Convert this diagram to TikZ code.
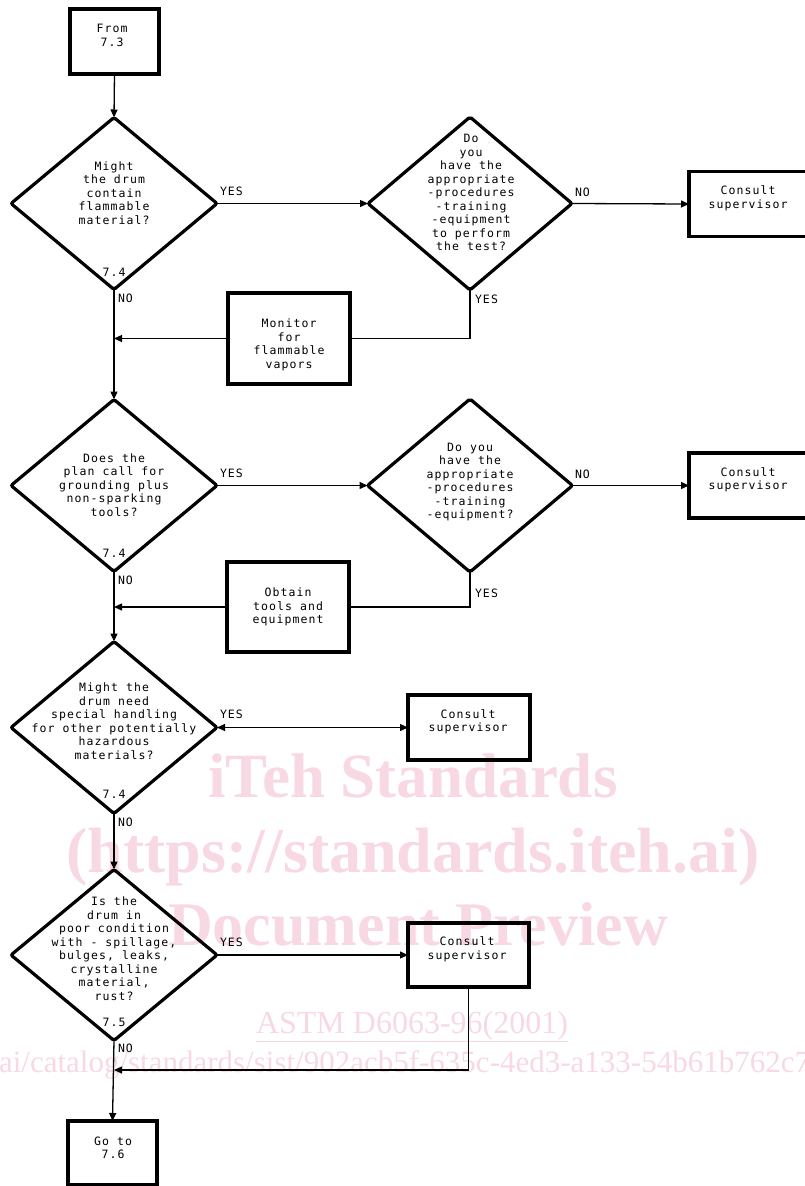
\documentclass[tikz,border=0pt]{standalone}
\usepackage{fontspec}
\setmonofont{DejaVu Sans Mono}[LetterSpace=9.4]
\newfontfamily\wmfont{Liberation Serif}
\usetikzlibrary{shapes.geometric,arrows.meta}
\definecolor{wm}{RGB}{248,217,227}
\begin{document}
\begin{tikzpicture}[x=1pt,y=-1pt,
  every node/.style={inner sep=0pt,outer sep=0pt},
  dia/.style={draw,line width=3.2pt,shape=diamond,minimum width=206pt,minimum height=172pt,rounded corners=2pt},
  box/.style={draw,line width=3.2pt,rectangle},
  txt/.style={font=\ttfamily\fontsize{11.5}{13.5}\selectfont,align=center},
  lab/.style={font=\ttfamily\fontsize{11.5}{13.5}\selectfont},
  con/.style={line width=1.3pt},
  arr/.style={con,-{Triangle[length=8pt,width=7pt]}},
  darr/.style={con,{Triangle[length=8pt,width=7pt]}-{Triangle[length=8pt,width=7pt]}},
  wmbig/.style={text=wm,font=\wmfont\bfseries\fontsize{63}{63}\selectfont,anchor=base},
  wmsmall/.style={text=wm,font=\wmfont\fontsize{32}{32}\selectfont,anchor=base}
]
\useasboundingbox (0,0) rectangle (804,1186);
% watermark
\node[wmbig] (w1) at (413,797) {iTeh Standards};
\node[wmbig,font=\wmfont\bfseries\fontsize{64}{64}\selectfont] (w2) at (413,872) {(https://standards.iteh.ai)};
\node[wmbig,font=\wmfont\bfseries\fontsize{62}{62}\selectfont] (w3) at (418,945) {Document Preview};
\node[wmsmall] (w4) at (412,1033) {\underline{ASTM D6063-96(2001)}};
\node[wmsmall,anchor=base west,font=\wmfont\fontsize{31}{31}\selectfont] (w5) at (-1,1072) {ai/catalog/standards/sist/902acb5f-635c-4ed3-a133-54b61b762c7};

% boxes and diamonds
\node[box,minimum width=89pt,minimum height=65pt] (from) at (114.5,41.5) {};
\node[txt] (fromT) at (112,35.5) {From\\7.3};

\node[dia] (d1) at (114,203.5) {};
\node[txt] (d1T) at (114,193) {Might\\the drum\\contain\\flammable\\material?};
\node[lab] (d1s) at (114,272) {7.4};
\node[lab,anchor=west] (d1no) at (118,298) {NO};
\node[lab,anchor=west] (d1yes) at (220,191) {YES};

\node[dia,minimum width=204pt,minimum height=173pt] (d2) at (470,203.5) {};
\node[txt] (d2T) at (471,192.5) {Do\\you\\have the\\appropriate\\-procedures\\-training\\-equipment\\to perform\\the test?};
\node[lab,anchor=west] (d2no) at (575,192) {NO};
\node[lab,anchor=west] (d2yes) at (475,299) {YES};

\node[box,minimum width=131pt,minimum height=65pt] (c1) at (754.5,204) {};
\node[txt] (c1T) at (748,198.5) {Consult\\supervisor};

\node[box,minimum width=122pt,minimum height=91pt] (mon) at (289,338.5) {};
\node[txt] (monT) at (289,345) {Monitor\\for\\flammable\\vapors};

\node[dia] (d3) at (114,485.5) {};
\node[txt] (d3T) at (114,485) {Does the\\plan call for\\grounding plus\\non-sparking\\tools?};
\node[lab] (d3s) at (114,553) {7.4};
\node[lab,anchor=west] (d3no) at (118,580) {NO};
\node[lab,anchor=west] (d3yes) at (220,473) {YES};

\node[dia,minimum width=205pt,minimum height=173pt] (d4) at (470,485.5) {};
\node[txt] (d4T) at (470,482) {Do you\\have the\\appropriate\\-procedures\\-training\\-equipment?};
\node[lab,anchor=west] (d4no) at (575,474) {NO};
\node[lab,anchor=west] (d4yes) at (475,593) {YES};

\node[box,minimum width=131pt,minimum height=65pt] (c2) at (754.5,485.5) {};
\node[txt] (c2T) at (748,480) {Consult\\supervisor};

\node[box,minimum width=122pt,minimum height=90pt] (obt) at (288,607) {};
\node[txt] (obtT) at (288,607) {Obtain\\tools and\\equipment};

\node[dia] (d5) at (114,727.5) {};
\node[txt] (d5T) at (114,721) {Might the\\drum need\\special handling\\for other potentially\\hazardous\\materials?};
\node[lab] (d5s) at (114,794) {7.4};
\node[lab,anchor=west] (d5no) at (118,822) {NO};
\node[lab,anchor=west] (d5yes) at (220,714) {YES};

\node[box,minimum width=122pt,minimum height=65pt] (c3) at (469,727.5) {};
\node[txt] (c3T) at (468,722) {Consult\\supervisor};

\node[dia,minimum height=171pt] (d6) at (114,955) {};
\node[txt] (d6T) at (114,948.5) {Is the\\drum in\\poor condition\\with - spillage,\\bulges, leaks,\\crystalline\\material,\\rust?};
\node[lab] (d6s) at (114,1022) {7.5};
\node[lab,anchor=west] (d6no) at (118,1048) {NO};
\node[lab,anchor=west] (d6yes) at (220,942) {YES};

\node[box,minimum width=121pt,minimum height=64pt] (c4) at (468.5,955) {};
\node[txt] (c4T) at (467,949.5) {Consult\\supervisor};

\node[box,minimum width=89pt,minimum height=64pt] (goto) at (112.5,1153) {};
\node[txt] (gotoT) at (113,1148) {Go to\\7.6};

\coordinate (ret) at (114,1070);

% connectors
\draw[arr] (from.south) -- (d1.north);
\draw[arr] (d1.east) -- (d2.west);
\draw[arr] (d2.east) -- (c1.west);
\draw[con] (d2.south) |- (mon.east);
\draw[arr] (mon.west) -- (mon.west -| d1.south);
\draw[arr] (d1.south) -- (d3.north);
\draw[arr] (d3.east) -- (d4.west);
\draw[arr] (d4.east) -- (c2.west);
\draw[con] (d4.south) |- (obt.east);
\draw[arr] (obt.west) -- (obt.west -| d3.south);
\draw[arr] (d3.south) -- (d5.north);
\draw[darr] (d5.east) -- (c3.west);
\draw[arr] (d5.south) -- (d6.north);
\draw[arr] (d6.east) -- (c4.west);
\draw[arr] (c4.south) |- (ret);
\draw[arr] (d6.south) -- (goto.north);
\end{tikzpicture}
\end{document}
